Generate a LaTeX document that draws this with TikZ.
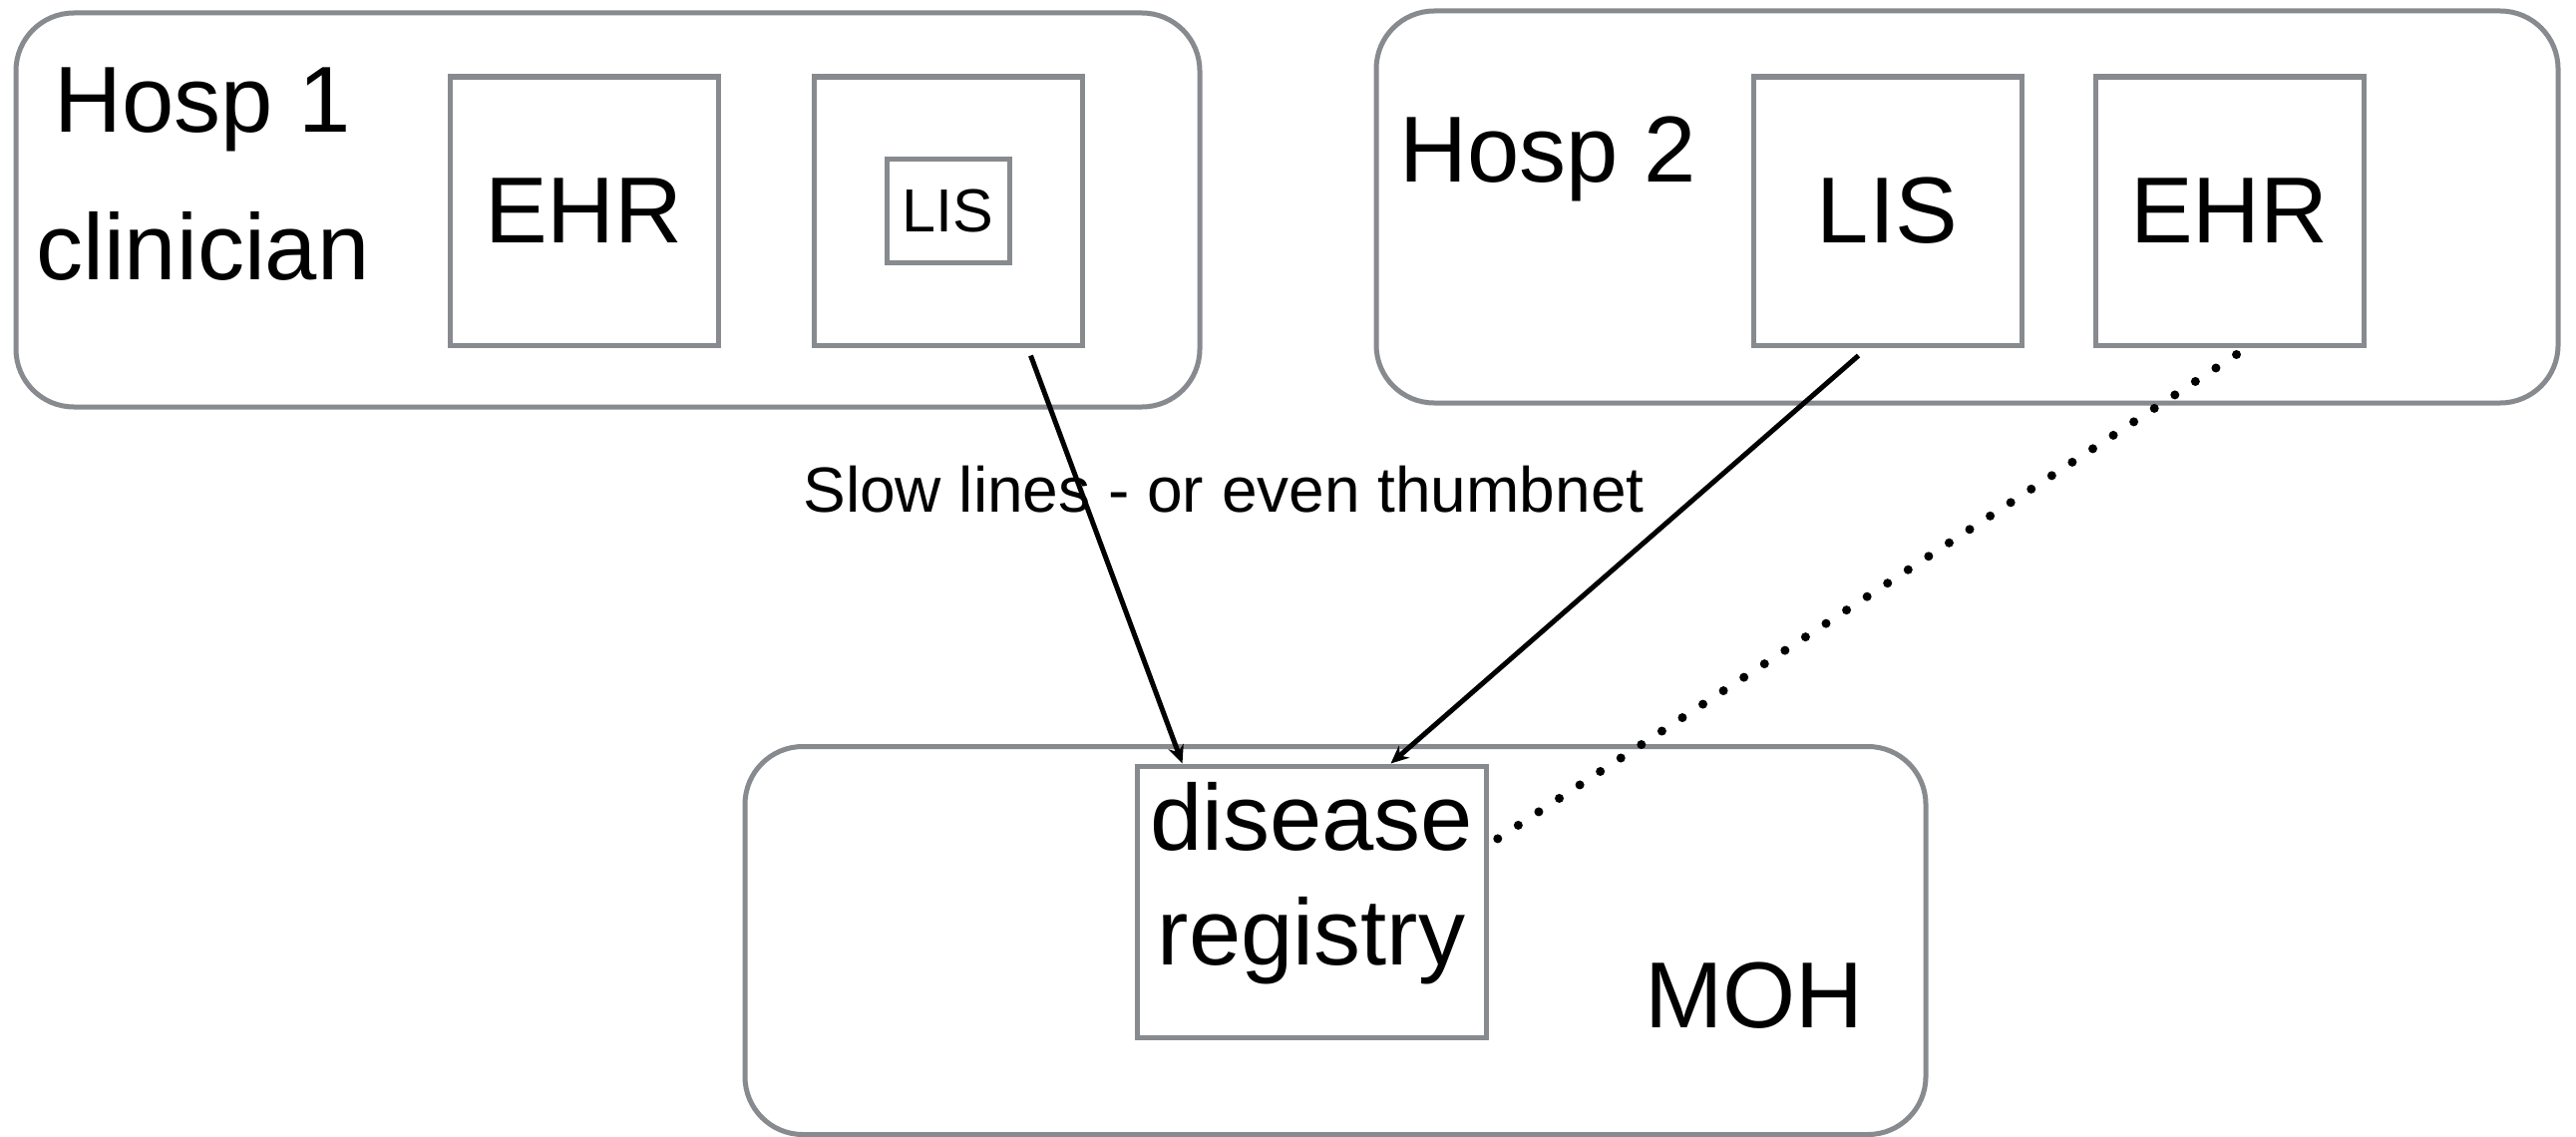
\documentclass[tikz,border=0pt]{standalone}
\usepackage{fontspec}
\setmainfont{Liberation Sans}
\usetikzlibrary{arrows.meta,calc}
\definecolor{boxgray}{HTML}{878A8E}
\tikzset{
  hospbox/.style={draw=boxgray, line width=5pt, rounded corners=58pt, inner sep=0pt},
  sysbox/.style={draw=boxgray, line width=5pt, inner sep=0pt, minimum width=269pt, minimum height=269pt},
  bigtext/.style={font=\fontsize{94pt}{113pt}\selectfont, inner sep=0pt},
  midtext/.style={font=\fontsize{64pt}{77pt}\selectfont, inner sep=0pt},
  smalltext/.style={font=\fontsize{61pt}{73pt}\selectfont, inner sep=0pt},
  link/.style={line width=5pt, -{Stealth[length=18pt,width=16pt]}},
  dotlink/.style={line width=9pt, line cap=round, dash pattern=on 0pt off 24.6pt},
}
\begin{document}
\begin{tikzpicture}[x=1pt,y=-1pt]
\useasboundingbox (0,0) rectangle (2583,1140);
\fill[white] (0,0) rectangle (2583,1140);

% container boxes
\node[hospbox, minimum width=1187pt, minimum height=395pt] (hosp1) at (609.5,210.5) {};
\node[hospbox, minimum width=1185pt, minimum height=393pt] (hosp2) at (1972.5,207.5) {};
\node[hospbox, minimum width=1184pt, minimum height=389pt] (moh) at (1339,943) {};

% Hosp 1
\node[bigtext, anchor=base west] (h1label) at (54,132) {Hosp 1};
\node[bigtext, anchor=base west] (clin) at (36,280) {clinician};
\node[sysbox] (ehr1) at (585.5,211.5) {};
\node[bigtext] (ehr1t) at (ehr1.center) {EHR};
\node[sysbox] (lis1) at (950.5,211.5) {};
\node[draw=boxgray, line width=5pt, minimum width=123pt, minimum height=104pt, inner sep=0pt] (lis1in) at (950.5,211.5) {};
\node[smalltext] (lis1t) at (lis1in.center) {LIS};

% Hosp 2
\node[bigtext, anchor=base west] (h2label) at (1403,182) {Hosp 2};
\node[sysbox] (lis2) at (1892.5,211.5) {};
\node[bigtext] (lis2t) at (lis2.center) {LIS};
\node[sysbox] (ehr2) at (2235.5,211.5) {};
\node[bigtext] (ehr2t) at (ehr2.center) {EHR};

% MOH
\node[draw=boxgray, line width=5pt, minimum width=350pt, minimum height=272pt, inner sep=0pt] (dr) at (1315,904) {};
\node[bigtext, anchor=base] (drt1) at (1315,852) {disease};
\node[bigtext, anchor=base] (drt2) at (1315,967) {registry};
\node[bigtext, anchor=base west] (mohlabel) at (1649,1030) {MOH};

% label
\node[midtext, anchor=base] (slow) at (1227,513) {Slow lines - or even thumbnet};

% connectors
\coordinate (s1) at ([xshift=-54pt,yshift=-8pt]lis1.south east);
\coordinate (e1) at ([xshift=48pt]dr.north west);
\coordinate (s2) at ([xshift=-29pt,yshift=-8pt]lis2.south);
\coordinate (e2) at ([xshift=-98pt]dr.north east);
\coordinate (s3) at ([xshift=7pt,yshift=-7pt]ehr2.south);
\coordinate (e3) at ([xshift=3pt,yshift=59pt]dr.east);
\draw[link] (s1) -- (e1);
\draw[link] (s2) -- (e2);
\draw[dotlink] (s3) -- (e3);
\end{tikzpicture}
\end{document}
